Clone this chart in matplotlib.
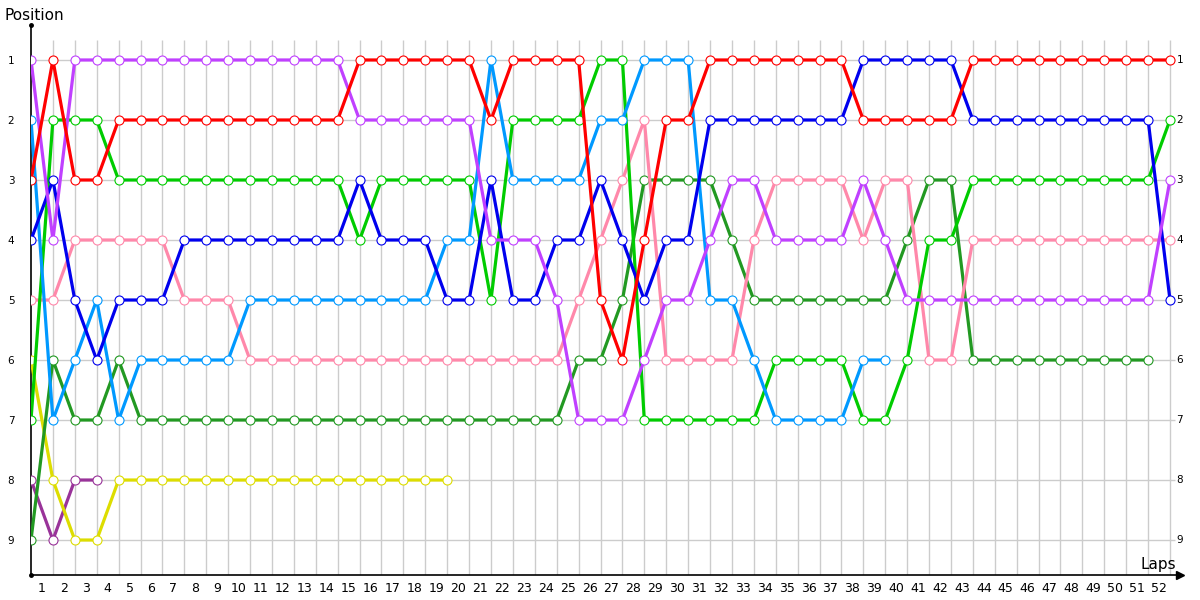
import numpy as np
import matplotlib.pyplot as plt

# lap-by-lap positions, index = lap number (starting at lap 0)
red = [3, 1, 3, 3, 2, 2, 2, 2, 2, 2,
       2, 2, 2, 2, 2, 1, 1, 1, 1, 1,
       1, 2, 1, 1, 1, 1, 5, 6, 4, 2,
       2, 1, 1, 1, 1, 1, 1, 1, 2, 2,
       2, 2, 2, 1, 1, 1, 1, 1, 1, 1,
       1, 1, 1]
violet = [1, 4, 1, 1, 1, 1, 1, 1, 1, 1,
          1, 1, 1, 1, 1, 2, 2, 2, 2, 2,
          2, 4, 4, 4, 5, 7, 7, 7, 6, 5,
          5, 4, 3, 3, 4, 4, 4, 4, 3, 4,
          5, 5, 5, 5, 5, 5, 5, 5, 5, 5,
          5, 5, 3]
light_blue = [2, 7, 6, 5, 7, 6, 6, 6, 6, 6,
              5, 5, 5, 5, 5, 5, 5, 5, 5, 4,
              4, 1, 3, 3, 3, 3, 2, 2, 1, 1,
              1, 5, 5, 6, 7, 7, 7, 7, 6, 6]
blue = [4, 3, 5, 6, 5, 5, 5, 4, 4, 4,
        4, 4, 4, 4, 4, 3, 4, 4, 4, 5,
        5, 3, 5, 5, 4, 4, 3, 4, 5, 4,
        4, 2, 2, 2, 2, 2, 2, 2, 1, 1,
        1, 1, 1, 2, 2, 2, 2, 2, 2, 2,
        2, 2, 5]
green = [7, 2, 2, 2, 3, 3, 3, 3, 3, 3,
         3, 3, 3, 3, 3, 4, 3, 3, 3, 3,
         3, 5, 2, 2, 2, 2, 1, 1, 7, 7,
         7, 7, 7, 7, 6, 6, 6, 6, 7, 7,
         6, 4, 4, 3, 3, 3, 3, 3, 3, 3,
         3, 3, 2]
dark_green = [9, 6, 7, 7, 6, 7, 7, 7, 7, 7,
              7, 7, 7, 7, 7, 7, 7, 7, 7, 7,
              7, 7, 7, 7, 7, 6, 6, 5, 3, 3,
              3, 3, 4, 5, 5, 5, 5, 5, 5, 5,
              4, 3, 3, 6, 6, 6, 6, 6, 6, 6,
              6, 6]
pink = [5, 5, 4, 4, 4, 4, 4, 5, 5, 5,
        6, 6, 6, 6, 6, 6, 6, 6, 6, 6,
        6, 6, 6, 6, 6, 5, 4, 3, 2, 6,
        6, 6, 6, 4, 3, 3, 3, 3, 4, 3,
        3, 6, 6, 4, 4, 4, 4, 4, 4, 4,
        4, 4, 4]
yellow = [6, 8, 9, 9, 8, 8, 8, 8, 8, 8,
          8, 8, 8, 8, 8, 8, 8, 8, 8, 8]
dark_purple = [8, 9, 8, 8]

num_laps = 52
positions = list(range(1, 10))

series = [
    (dark_purple, '#993399'),
    (yellow, '#dddd00'),
    (dark_green, '#229922'),
    (pink, '#ff88aa'),
    (green, '#00cc00'),
    (light_blue, '#0099ff'),
    (blue, '#0000ee'),
    (violet, '#c040ff'),
    (red, '#ff0000'),
]

fig = plt.figure(figsize=(12, 6), dpi=100)
ax = fig.add_axes([31 / 1200, 25 / 600, 1149 / 1200, 550 / 600])

lap_px = 1139 / num_laps
ax.set_xlim(0, 1149 / lap_px)
ax.set_ylim(9.583, 0.417)

# grid
ax.vlines(range(1, num_laps + 1), 0.667, 9.583, color='#cccccc', lw=1, zorder=1)
ax.hlines(positions, 0, 52.25, color='#cccccc', lw=1, zorder=1)

for data, color in series:
    laps = np.arange(len(data))
    ax.plot(laps, data, color=color, lw=2.3, marker='o', markersize=6.5,
            markerfacecolor='white', markeredgecolor=color,
            markeredgewidth=0.8, zorder=3, solid_joinstyle='miter')

for s in ['top', 'right']:
    ax.spines[s].set_visible(False)
ax.spines['left'].set_linewidth(1.2)
ax.spines['bottom'].set_linewidth(1.2)

ax.set_yticks(positions)
ax.set_yticklabels([str(p) for p in positions], fontsize=7.5)
ax.set_xticks([l - 0.5 for l in range(1, num_laps + 1)])
ax.set_xticklabels([str(l) for l in range(1, num_laps + 1)], fontsize=9)
ax.tick_params(axis='y', length=0, pad=12)
ax.tick_params(axis='x', length=0, pad=5)

# position labels on the right
for p in positions:
    ax.text(52.3, p, str(p), fontsize=7.5, ha='left', va='center')

# axis end markers
ax.plot([0, 0], [9.583, 0.417], 'o', color='black', ms=2.5, clip_on=False, zorder=5)
ax.plot([1.0], [0.0], '>', color='black', ms=6, clip_on=False,
        transform=ax.transAxes, zorder=5)

fig.text(5 / 1200, 1 - 15 / 600, 'Position', fontsize=11, ha='left', va='center')
fig.text(1176 / 1200, 1 - 565 / 600, 'Laps', fontsize=11, ha='right', va='center')

fig.savefig('out.png', dpi=100)
